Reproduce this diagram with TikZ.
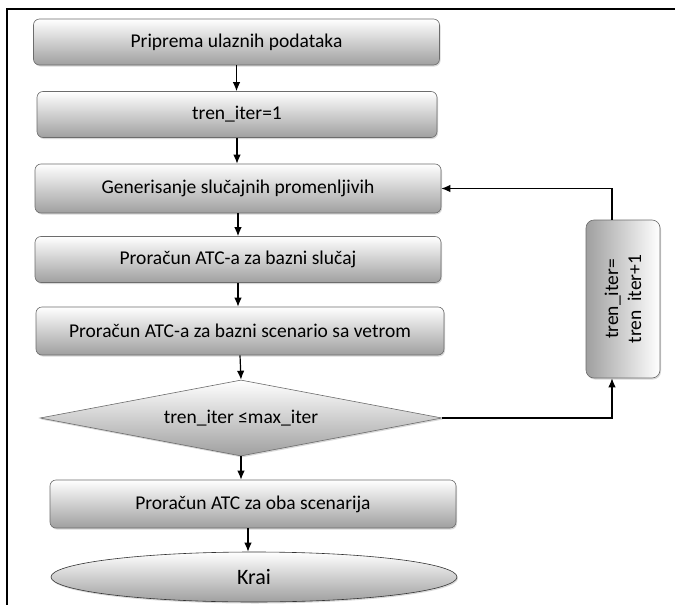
\documentclass[tikz,border=0pt]{standalone}
\usepackage{fontspec}
\setmainfont{Carlito}
\usetikzlibrary{shapes.geometric,shadows,arrows.meta}

\begin{document}
\begin{tikzpicture}
	[x=1pt,y=-1pt,font=\fontsize{19.5}{23}\selectfont,
	 stepbox/.style={rectangle,rounded corners=6pt,draw=gray!85!black,semithick,
	   top color=white,bottom color=gray!75,
	   drop shadow={shadow xshift=1pt,shadow yshift=-1.5pt,fill=gray!60},
	   minimum width=406pt,minimum height=46pt},
	 decision/.style={diamond,aspect=5.3,draw=gray!85!black,semithick,
	   top color=white,bottom color=gray!75,inner sep=0pt,
	   drop shadow={shadow xshift=1pt,shadow yshift=-1.5pt,fill=gray!60},
	   minimum width=402pt,minimum height=76pt},
	 endnode/.style={ellipse,draw=gray!40!black,semithick,
	   top color=white,bottom color=gray!75,
	   drop shadow={shadow xshift=1pt,shadow yshift=-1.5pt,fill=gray!60},
	   minimum width=406pt,minimum height=50pt},
	 flow/.style={-{Latex[length=9pt,width=7.5pt]},line width=1.2pt}]
    \useasboundingbox (0,0) rectangle (675,605);
    \draw[line width=2pt] (7,605) -- (7,9) -- (675,9);

    \node[stepbox] (prep) at (236.5,42) {Priprema ulaznih podataka};
    \node[stepbox,minimum width=400pt] (init) at (237,114.5) {tren\_iter=1};
    \node[stepbox,minimum height=49pt] (gen) at (238,188.5) {Generisanje slučajnih promenljivih};
    \node[stepbox] (base) at (238,259.5) {Proračun ATC-a za bazni slučaj};
    \node[stepbox,minimum width=408pt,minimum height=48pt] (wind) at (240,331) {Proračun ATC-a za bazni scenario sa vetrom};
    \node[decision] (cond) at (241,418) {tren\_iter ≤max\_iter};
    \node[stepbox,minimum height=48pt] (atc) at (253,504) {Proračun ATC za oba scenarija};
    \node[endnode,font=\fontsize{22}{26}\selectfont] (kraj) at (254,577) {Krai};
    \node[rectangle,rounded corners=8pt,draw=gray!85!black,semithick,
      left color=gray!75,right color=white,rotate=90,align=center,
      drop shadow={shadow xshift=1pt,shadow yshift=-1.5pt,fill=gray!60},
      minimum width=158pt,minimum height=74pt] (iter) at (623,299) {tren\_iter=\\tren\ \ iter+1};

    \draw[flow] (prep.south) -- (prep.south |- init.north);
    \draw[flow] (init.south) -- (init.south |- gen.north);
    \draw[flow] (gen.south) -- (gen.south |- base.north);
    \draw[flow] (base.south) -- (base.south |- wind.north);
    \draw[flow] (wind.south) -- (cond.north);
    \draw[flow] (cond.south) -- (cond.south |- atc.north);
    \draw[flow] ([xshift=-5pt]atc.south) -- ([xshift=-5pt]atc.south |- kraj.north);
    \draw[flow] (cond.east) -| ([xshift=-11pt]iter.west);
    \draw[flow] ([xshift=-11pt]iter.east) |- (gen.east);

\end{tikzpicture}
\end{document}
